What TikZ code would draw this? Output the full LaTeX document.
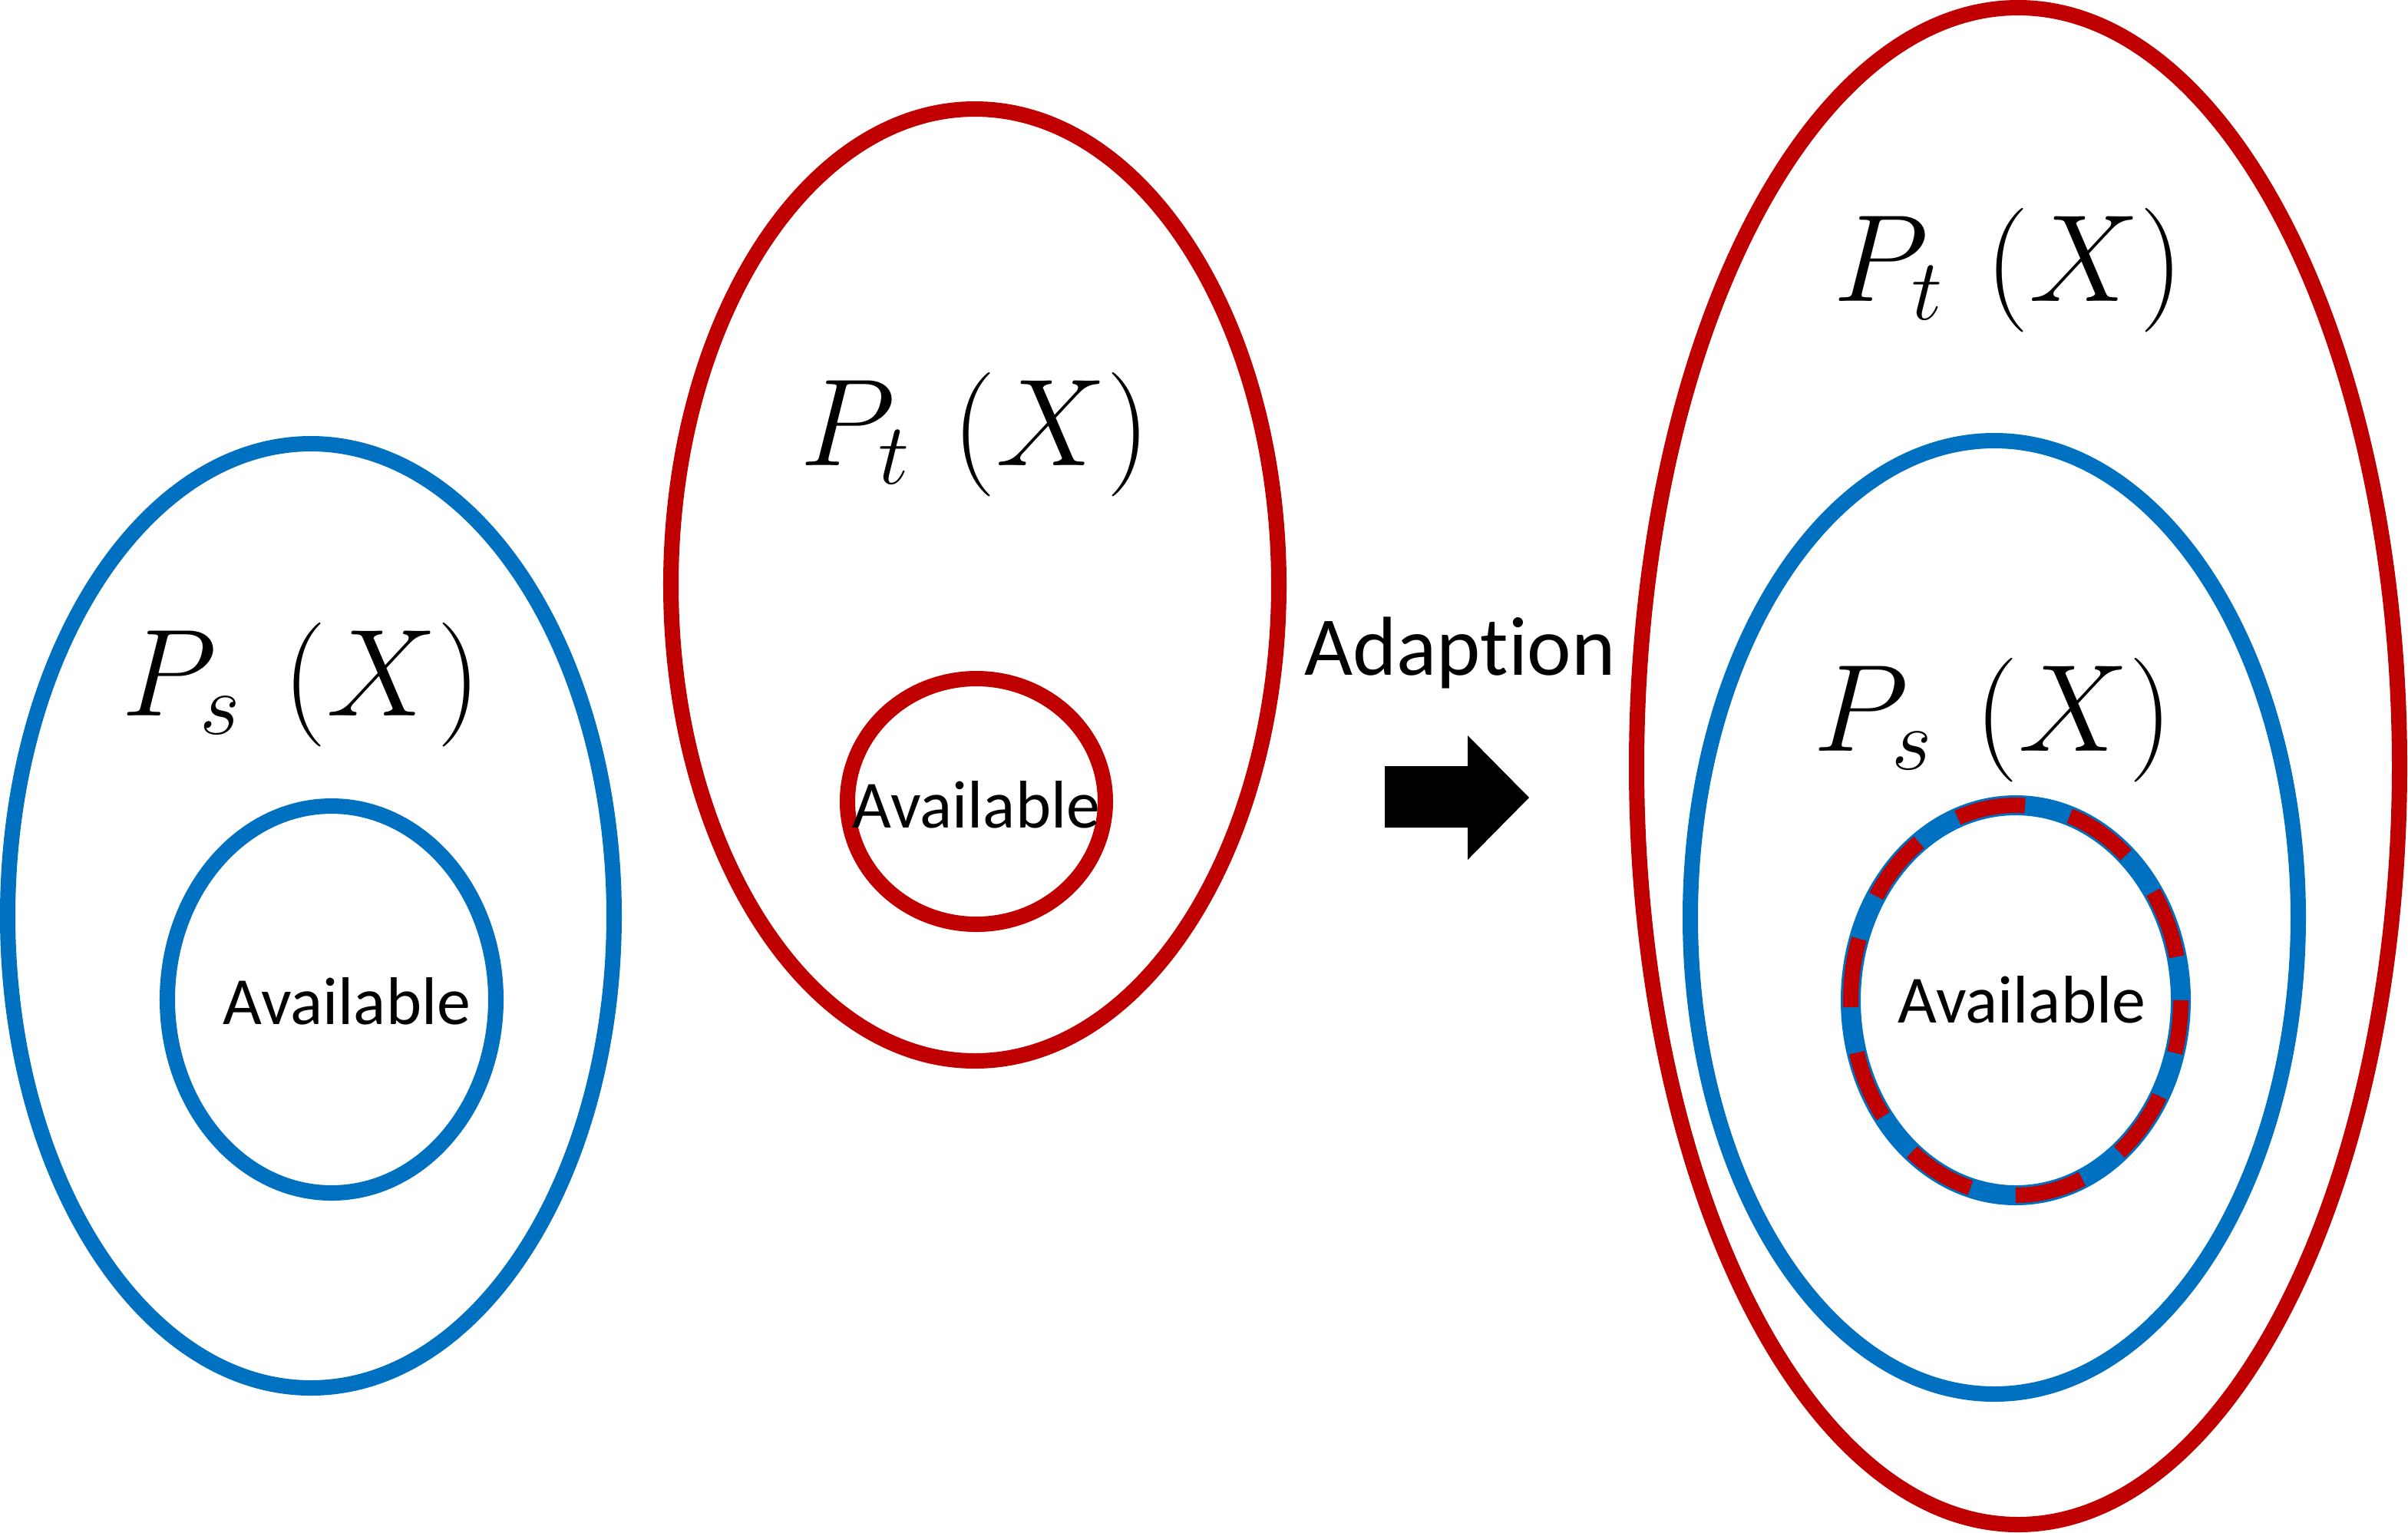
\documentclass[tikz,border=0pt]{standalone}
\usepackage{fix-cm}
\usepackage{fontspec}
\setmainfont[Ligatures={NoCommon,NoContextual},Contextuals=NoAlternate]{Carlito}
\usetikzlibrary{shapes.geometric}
\definecolor{srcblue}{HTML}{0070C0}
\definecolor{tgtred}{HTML}{C00000}

\begin{document}
\begin{tikzpicture}[
  blueset/.style={ellipse,draw=srcblue,line width=5.7pt,inner sep=0pt},
  redset/.style={ellipse,draw=tgtred,line width=5.7pt,inner sep=0pt},
  avail/.style={font=\fontsize{25}{30}\selectfont},
  dist/.style={anchor=base west,inner sep=0pt,font=\fontsize{46}{56}\selectfont}]
\useasboundingbox (0,0) rectangle (31.37,-19.96);
% source domain
\node(ps) [blueset,minimum width=7.9cm,minimum height=12.3cm] at (4.05,-11.93) {};
\node(psa) [blueset,minimum width=4.28cm,minimum height=5.04cm] at (4.32,-13.02) {};
\node(psalabel) [avail] at (4.52,-13.04) {Available};
\node(pslabel) [dist] at (1.58,-9.32) {$P_s\,\,(X)$};
% target domain
\node(pt) [redset,minimum width=7.92cm,minimum height=12.4cm] at (12.7,-7.62) {};
\node(pta) [redset,minimum width=3.36cm,minimum height=3.2cm] at (12.72,-10.44) {};
\node(ptalabel) [avail] at (12.72,-10.48) {Available};
\node(ptlabel) [dist] at (10.42,-6.06) {$P_t\,\,(X)$};
% adaption
\node(adapt) [font=\fontsize{31}{36}\selectfont] at (19.02,-8.5) {Adaption};
\fill (18.04,-9.98) -- (19.12,-9.98) -- (19.12,-9.58) -- (19.92,-10.39)
  -- (19.12,-11.2) -- (19.12,-10.78) -- (18.04,-10.78) -- cycle;
% adapted
\node(ptr) [redset,minimum width=9.94cm,minimum height=19.76cm] at (26.29,-9.98) {};
\node(psr) [blueset,minimum width=7.92cm,minimum height=12.42cm] at (25.98,-11.95) {};
\node(ra) [ellipse,draw=srcblue,line width=7.4pt,inner sep=0pt,minimum width=4.3cm,minimum height=5.08cm] at (26.26,-13.03) {};
\draw[tgtred,line width=5.7pt,dash pattern=on 0.9cm off 0.6cm,dash phase=0.93cm] (ra.center) ellipse [x radius=2.15cm,y radius=2.54cm];
\node(ralabel) [avail] at (26.34,-13.02) {Available};
\node(ptrlabel) [dist] at (23.88,-3.92) {$P_t\,\,(X)$};
\node(psrlabel) [dist] at (23.62,-9.78) {$P_s\,\,(X)$};
\end{tikzpicture}
\end{document}
